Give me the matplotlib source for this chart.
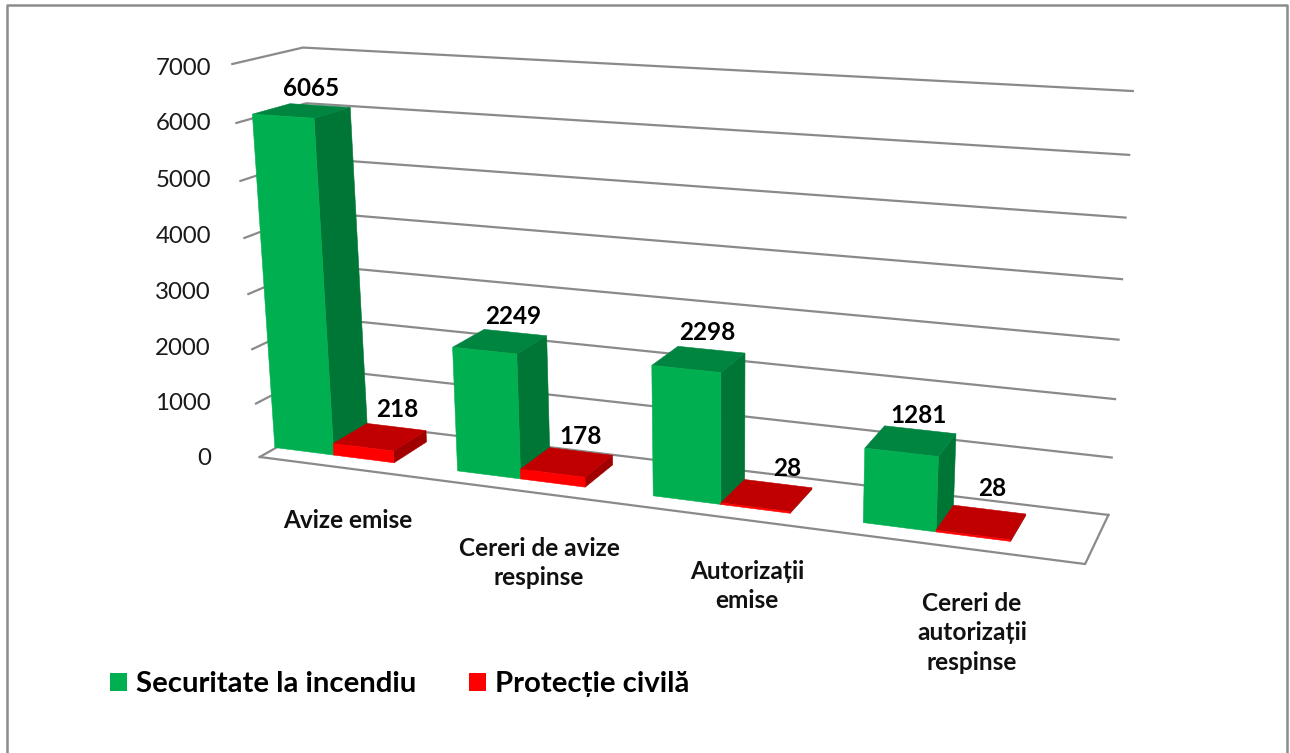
import numpy as np
from matplotlib import pyplot as plt
from matplotlib.patches import Polygon, Rectangle

categories = ["Avize emise", "Cereri de avize\nrespinse", "Autorizații\nemise",
              "Cereri de\nautorizații\nrespinse"]
securitate = [6065, 2249, 2298, 1281]
protectie = [218, 178, 28, 28]
y_ticks = [0, 1000, 2000, 3000, 4000, 5000, 6000, 7000]
legend_names = ["Securitate la incendiu", "Protecție civilă"]

FONT = ["Lato", "Noto Sans", "DejaVu Sans"]
GRID = "#8a8a8a"
GREEN = {"front": "#00B050", "side": "#007636", "top": "#008540"}
RED = {"front": "#FF0000", "side": "#A00000", "top": "#C00000"}

# where the corners of the 3D box land in the picture: (category, depth, value) -> pixel
box_corners = [
    ((0, 0, 0), (258, 456)), ((4, 0, 0), (1085.7, 564)), ((4, 1, 0), (1107.7, 515)),
    ((0, 1, 0), (327, 421)), ((0, 0, 7000), (233, 65)), ((0, 1, 7000), (302.7, 47.7)),
    ((4, 1, 7000), (1133, 91)), ((0, 0, 6000), (237, 123)), ((0, 1, 6000), (305, 102)),
]

BAR_START = -0.007
BAR_WIDTH = 0.33
DEPTH_FRONT, DEPTH_BACK = 0.24, 0.78


def fit_projection(corners):
    """Fit a 3x4 camera matrix to the box corners."""
    rows = []
    for (u, v, w), (px, py) in corners:
        w = w / 1000
        rows.append([u, v, w, 1, 0, 0, 0, 0, -px * u, -px * v, -px * w, -px])
        rows.append([0, 0, 0, 0, u, v, w, 1, -py * u, -py * v, -py * w, -py])
    return np.linalg.svd(np.array(rows))[2][-1].reshape(3, 4)


camera = fit_projection(box_corners)


def project(u, v, w):
    x, y, z = camera @ np.array([u, v, w / 1000, 1])
    return x / z, y / z


def draw_bar(ax, u0, u1, value, colors):
    """Draw the visible faces of one bar, back faces first."""
    v0, v1 = DEPTH_FRONT, DEPTH_BACK
    faces = [
        ("side", [(u1, v0, 0), (u1, v1, 0), (u1, v1, value), (u1, v0, value)]),
        ("top", [(u0, v0, value), (u1, v0, value), (u1, v1, value), (u0, v1, value)]),
        ("front", [(u0, v0, 0), (u1, v0, 0), (u1, v0, value), (u0, v0, value)]),
    ]
    for name, corners in faces:
        ax.add_patch(Polygon([project(*c) for c in corners], closed=True, zorder=3,
                             facecolor=colors[name], edgecolor=colors[name], linewidth=0.4))


fig = plt.figure(figsize=(12.9, 7.53), dpi=100)
ax = fig.add_axes([0, 0, 1, 1])
ax.set_xlim(0, 1290)
ax.set_ylim(753, 0)
ax.axis("off")

# chart frame, the bottom edge is cut off
ax.plot([7, 7, 1287, 1287], [753, 5, 5, 753], color="#8c8c8c", linewidth=1.8)

# gridlines on left and back wall, the tick labels don't follow them exactly
tick_label_y = [458, 403, 348, 292, 236, 180, 123, 68]
for tick, label_y in zip(y_ticks, tick_label_y):
    pts = [project(0, 0, tick), project(0, 1, tick), project(4, 1, tick)]
    ax.plot(*zip(*pts), color=GRID, linewidth=1.6)
    ax.text(211, label_y, str(tick), ha="right", va="center",
            fontsize=17.3, color="#1a1a1a", family=FONT)

# floor edges
pts = [project(0, 0, 0), project(4, 0, 0), project(4, 1, 0)]
ax.plot(*zip(*pts), color=GRID, linewidth=1.6)

for i in range(len(categories)):
    start = i + BAR_START
    draw_bar(ax, start, start + BAR_WIDTH, securitate[i], GREEN)
    draw_bar(ax, start + BAR_WIDTH, start + 2 * BAR_WIDTH, protectie[i], RED)

# data labels sit over the back of each bar top
green_nudge = [(-9, -17), (-2, -16), (-4, -17), (-1, -14)]
red_nudge = [(1, -17), (0, -15), (9, -15), (3, -21)]
for i in range(len(categories)):
    start = i + BAR_START
    x, y = project(start + BAR_WIDTH / 2, DEPTH_BACK, securitate[i])
    ax.text(x + green_nudge[i][0], y + green_nudge[i][1], str(securitate[i]), ha="center",
            va="center", fontsize=17.5, fontweight="bold", color="black", family=FONT, zorder=4)
    x, y = project(start + 1.5 * BAR_WIDTH, DEPTH_BACK, protectie[i])
    ax.text(x + red_nudge[i][0], y + red_nudge[i][1], str(protectie[i]), ha="center",
            va="center", fontsize=17.5, fontweight="bold", color="black", family=FONT, zorder=4)

category_centers = [(348, 520), (539, 563), (747, 586), (972, 633)]
for name, (x, y) in zip(categories, category_centers):
    ax.text(x, y, name, ha="center", va="center", fontsize=17.6, fontweight="bold",
            color="#111111", linespacing=1.36, family=FONT)

# legend
for name, color, box_x, text_x in zip(legend_names, [GREEN["front"], RED["front"]],
                                      [110, 469], [136, 495]):
    ax.add_patch(Rectangle((box_x, 673), 17, 18, facecolor=color, edgecolor="none"))
    ax.text(text_x, 684, name, ha="left", va="center", fontsize=21.2, fontweight="bold",
            color="black", family=FONT)

fig.savefig("out.png", dpi=100)
